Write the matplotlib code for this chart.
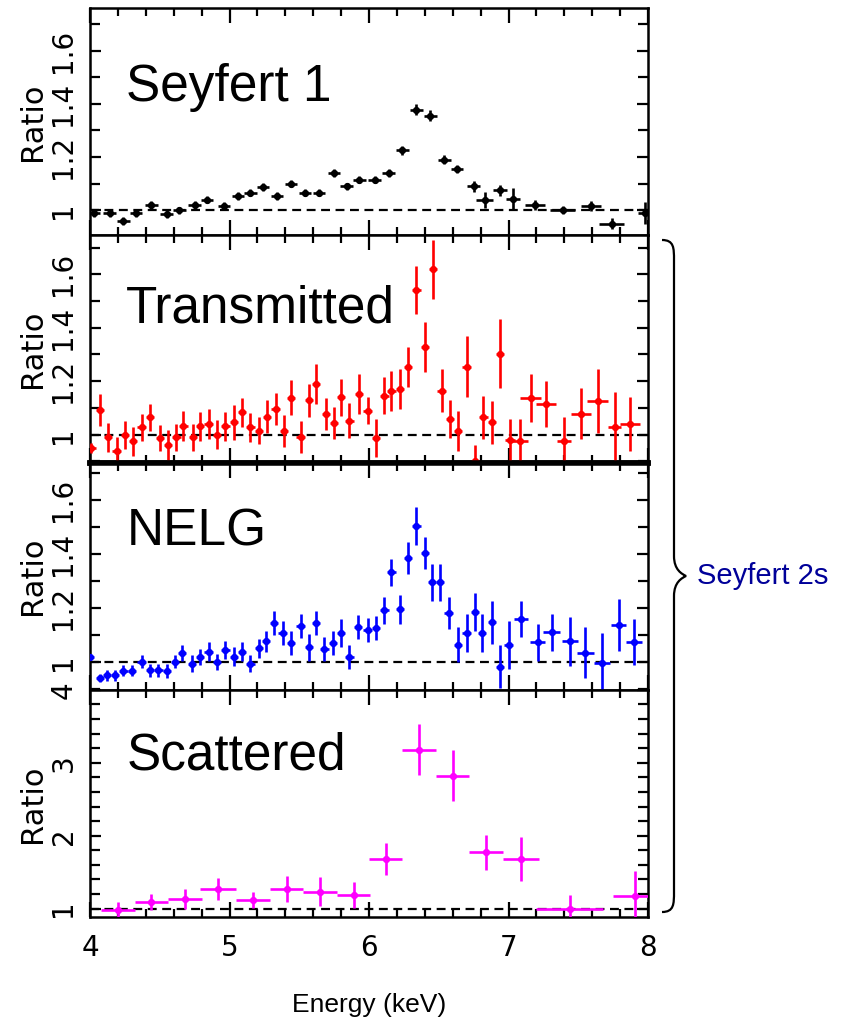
import matplotlib
matplotlib.use("Agg")
import matplotlib.pyplot as plt
import numpy as np
from matplotlib.path import Path
from matplotlib.patches import PathPatch
from matplotlib.ticker import MultipleLocator

# ---- data ----
# Seyfert 1 (black)
sy1_e = [4.03, 4.14, 4.24, 4.33, 4.44, 4.55, 4.64, 4.75, 4.84, 4.96, 5.06, 5.15,
         5.24, 5.34, 5.44, 5.54, 5.64, 5.75, 5.84, 5.93, 6.04, 6.14, 6.24, 6.34,
         6.44, 6.54, 6.63, 6.75, 6.83, 6.94, 7.03, 7.19, 7.39, 7.59, 7.74, 7.98]
sy1_r = [0.99, 0.99, 0.96, 0.99, 1.02, 0.985, 1.0, 1.02, 1.04, 1.016, 1.054, 1.066,
         1.088, 1.054, 1.10, 1.066, 1.066, 1.14, 1.09, 1.115, 1.115, 1.14, 1.225, 1.378,
         1.356, 1.19, 1.154, 1.09, 1.04, 1.075, 1.044, 1.02, 1.0, 1.016, 0.95, 0.99]
sy1_xerr = [0.045] * 28 + [0.06, 0.05, 0.05, 0.07, 0.09, 0.07, 0.09, 0.05]
sy1_yerr = [0.014] * 22 + [0.018, 0.02, 0.02, 0.018, 0.015, 0.02, 0.03, 0.02, 0.04,
                           0.02, 0.015, 0.02, 0.02, 0.04]

# Transmitted (red)
tr_e = [4.01, 4.07, 4.13, 4.19, 4.25, 4.31, 4.37, 4.43, 4.50, 4.56, 4.62, 4.67,
        4.74, 4.79, 4.85, 4.91, 4.97, 5.03, 5.09, 5.15, 5.21, 5.27, 5.33, 5.39,
        5.44, 5.51, 5.57, 5.62, 5.69, 5.75, 5.80, 5.86, 5.93, 5.99, 6.05, 6.11,
        6.16, 6.22, 6.28, 6.34, 6.40, 6.46, 6.52, 6.58, 6.64, 6.70, 6.76, 6.82,
        6.88, 6.94, 7.01, 7.08, 7.16, 7.27, 7.40, 7.52, 7.64, 7.76, 7.87]
tr_r = [0.95, 1.094, 0.99, 0.94, 1.0, 0.975, 1.028, 1.065, 0.988, 0.96, 0.99, 1.031,
        0.99, 1.031, 1.04, 1.0, 1.031, 1.046, 1.084, 1.028, 1.015, 1.068, 1.096, 1.015,
        1.138, 0.99, 1.128, 1.188, 1.078, 1.043, 1.14, 1.053, 1.153, 1.09, 0.988, 1.146,
        1.165, 1.171, 1.253, 1.54, 1.328, 1.618, 1.165, 1.059, 1.015, 1.255, 0.903, 1.065,
        1.046, 1.303, 0.98, 0.978, 1.138, 1.115, 0.978, 1.078, 1.125, 1.028, 1.04]
tr_xerr = [0.03] * 50 + [0.035, 0.06, 0.075, 0.07, 0.05, 0.07, 0.075, 0.05, 0.07]
tr_yerr = [0.02, 0.06, 0.055, 0.05, 0.053, 0.053, 0.05, 0.05, 0.05, 0.056, 0.05, 0.056,
           0.05, 0.055, 0.055, 0.055, 0.055, 0.065, 0.055, 0.055, 0.05, 0.06, 0.06, 0.06,
           0.065, 0.06, 0.06, 0.075, 0.06, 0.06, 0.07, 0.065, 0.075, 0.05, 0.07, 0.07,
           0.075, 0.075, 0.075, 0.09, 0.095, 0.11, 0.08, 0.07, 0.075, 0.115, 0.06, 0.08,
           0.08, 0.13, 0.08, 0.08, 0.09, 0.085, 0.09, 0.095, 0.12, 0.13, 0.1]

# NELG (blue)
ne_e = [4.00, 4.07, 4.12, 4.18, 4.24, 4.30, 4.37, 4.43, 4.49, 4.55, 4.61, 4.66,
        4.73, 4.79, 4.85, 4.91, 4.97, 5.03, 5.09, 5.15, 5.21, 5.26, 5.32, 5.38,
        5.44, 5.51, 5.57, 5.62, 5.68, 5.74, 5.80, 5.86, 5.92, 5.99, 6.05, 6.11,
        6.16, 6.22, 6.28, 6.34, 6.40, 6.45, 6.51, 6.57, 6.64, 6.70, 6.76, 6.81,
        6.88, 6.94, 7.00, 7.09, 7.21, 7.31, 7.44, 7.55, 7.67, 7.79, 7.90]
ne_r = [1.019, 0.944, 0.953, 0.953, 0.969, 0.969, 1.003, 0.971, 0.971, 0.969, 1.003, 1.034,
        0.996, 1.021, 1.04, 1.003, 1.046, 1.021, 1.04, 0.996, 1.053, 1.078, 1.146, 1.109,
        1.071, 1.136, 1.056, 1.146, 1.049, 1.071, 1.109, 1.021, 1.131, 1.121, 1.128, 1.194,
        1.334, 1.196, 1.386, 1.506, 1.406, 1.296, 1.296, 1.184, 1.065, 1.109, 1.186, 1.109,
        1.149, 0.984, 1.065, 1.161, 1.074, 1.111, 1.078, 1.036, 0.999, 1.138, 1.074]
ne_xerr = [0.03] * 51 + [0.05, 0.055, 0.06, 0.06, 0.06, 0.06, 0.055, 0.06]
ne_yerr = [0.01, 0.015, 0.02, 0.02, 0.02, 0.02, 0.025, 0.025, 0.025, 0.025, 0.025, 0.03,
           0.03, 0.03, 0.035, 0.03, 0.035, 0.035, 0.035, 0.03, 0.035, 0.04, 0.045, 0.045,
           0.045, 0.045, 0.05, 0.045, 0.045, 0.045, 0.05, 0.045, 0.045, 0.045, 0.045, 0.05,
           0.05, 0.055, 0.06, 0.07, 0.06, 0.07, 0.07, 0.06, 0.065, 0.07, 0.07, 0.07,
           0.08, 0.08, 0.09, 0.065, 0.07, 0.07, 0.09, 0.095, 0.11, 0.095, 0.085]

# Scattered (magenta)
sc_e = [4.20, 4.44, 4.68, 4.92, 5.17, 5.41, 5.65, 5.89, 6.12, 6.36, 6.60, 6.84, 7.09, 7.44, 7.91]
sc_r = [0.98, 1.09, 1.136, 1.27, 1.12, 1.27, 1.23, 1.19, 1.68, 3.18, 2.82, 1.77, 1.68, 1.0, 1.18]
sc_xerr = [0.12, 0.12, 0.12, 0.13, 0.12, 0.12, 0.12, 0.12, 0.12, 0.12, 0.12, 0.12, 0.13, 0.24, 0.16]
sc_yerr = [0.11, 0.11, 0.14, 0.15, 0.11, 0.18, 0.2, 0.18, 0.22, 0.35, 0.35, 0.24, 0.3, 0.19, 0.33]

panels = [
    ("Seyfert 1", sy1_e, sy1_r, sy1_xerr, sy1_yerr, "black", (0.906, 1.76)),
    ("Transmitted", tr_e, tr_r, tr_xerr, tr_yerr, "#ff0000", (0.896, 1.746)),
    ("NELG", ne_e, ne_r, ne_xerr, ne_yerr, "#0000ff", (0.899, 1.74)),
    ("Scattered", sc_e, sc_r, sc_xerr, sc_yerr, "#ff00ff", (0.886, 4.0)),
]
label_y = [0.59, 0.617, 0.636, 0.648]

W, H = 859, 1029
fig, axes = plt.subplots(4, 1, sharex=True, figsize=(W / 100, H / 100), dpi=100)
fig.subplots_adjust(left=90 / W, right=648 / W, top=1 - 8 / H, bottom=1 - 917 / H, hspace=0)

for i, (ax, (name, e, r, xe, ye, col, ylim)) in enumerate(zip(axes, panels)):
    ax.errorbar(e, r, xerr=xe, yerr=ye, fmt="o", ms=4.2, color=col, ecolor=col,
                elinewidth=1.9, capsize=0, zorder=3, clip_on=True)
    ax.axhline(1.0, color="black", ls=(0, (4, 2.5)), lw=1.6, zorder=2)
    ax.set_xlim(4, 8)
    ax.set_ylim(*ylim)
    ax.xaxis.set_major_locator(MultipleLocator(1))
    ax.xaxis.set_minor_locator(MultipleLocator(0.2))
    if i < 3:
        ax.yaxis.set_minor_locator(MultipleLocator(0.1))
        ax.set_yticks([1.0, 1.2, 1.4, 1.6])
        ax.set_yticklabels(["1", "1.2", "1.4", "1.6"])
    else:
        ax.yaxis.set_major_locator(MultipleLocator(1))
        ax.yaxis.set_minor_locator(MultipleLocator(0.2))
    ax.tick_params(axis="both", which="both", direction="in", top=True, right=True,
                   width=1.6)
    ax.tick_params(axis="x", which="major", length=11, pad=12, labelsize=20)
    ax.tick_params(axis="x", which="minor", length=6)
    ax.tick_params(axis="y", which="major", length=8, pad=9, labelsize=20)
    ax.tick_params(axis="y", which="minor", length=7)
    for lab in ax.get_yticklabels():
        lab.set_rotation(90)
        lab.set_va("center")
    for sp in ax.spines.values():
        sp.set_linewidth(1.8)
    ax.text(0.065, label_y[i], name, transform=ax.transAxes, fontsize=37,
            family="Liberation Sans", va="baseline", ha="left")
    pos = ax.get_position()
    fig.text(33 / W, (pos.y0 + pos.y1) / 2, "Ratio", rotation=90, ha="center",
             va="center", fontsize=22)

axes[1].spines["bottom"].set_linewidth(4)
axes[2].spines["top"].set_linewidth(4)

fig.text((90 + 648) / 2 / W, 1 - 1005 / H, "Energy (keV)", ha="center", va="center",
         fontsize=19, family="Liberation Sans")

# curly brace grouping the Seyfert 2 panels
def fx(px):
    return px / W

def fy(py):
    return 1 - py / H

top, bot, mid = 240, 912, 576
xl, xv, xt = 662, 674, 686
verts = [
    (fx(xl), fy(top)), (fx(xv), fy(top)), (fx(xv), fy(top + 8)), (fx(xv), fy(top + 20)),
    (fx(xv), fy(mid - 20)),
    (fx(xv), fy(mid - 6)), (fx(xt - 4), fy(mid - 2)), (fx(xt), fy(mid)),
    (fx(xt - 4), fy(mid + 2)), (fx(xv), fy(mid + 6)), (fx(xv), fy(mid + 20)),
    (fx(xv), fy(bot - 20)),
    (fx(xv), fy(bot - 8)), (fx(xv), fy(bot)), (fx(xl), fy(bot)),
]
codes = [Path.MOVETO, Path.CURVE4, Path.CURVE4, Path.CURVE4, Path.LINETO,
         Path.CURVE4, Path.CURVE4, Path.CURVE4, Path.CURVE4, Path.CURVE4, Path.CURVE4,
         Path.LINETO, Path.CURVE4, Path.CURVE4, Path.CURVE4]
brace = PathPatch(Path(verts, codes), transform=fig.transFigure, fill=False,
                  lw=1.6, edgecolor="black")
fig.patches.append(brace)
fig.text(fx(697), fy(mid), "Seyfert 2s", color="#000099", fontsize=21,
         family="Liberation Sans", ha="left", va="center")

fig.savefig("out.png", dpi=100)
